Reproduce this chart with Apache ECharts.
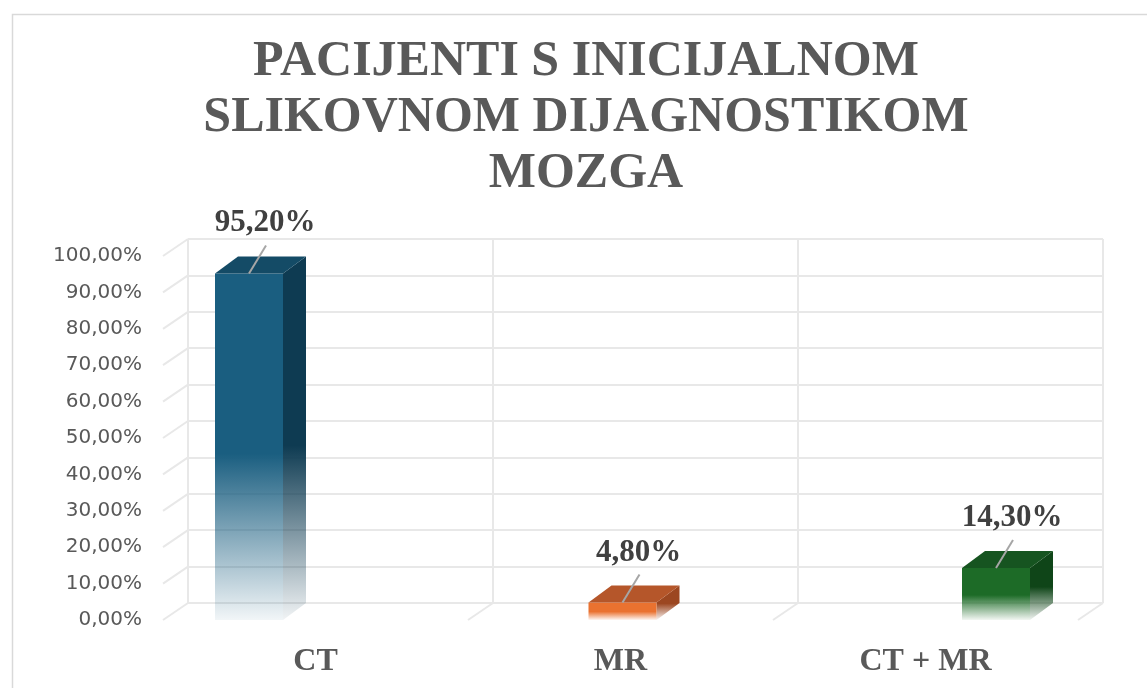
<!DOCTYPE html>
<html>
<head>
<meta charset="utf-8">
<script src="https://cdn.jsdelivr.net/npm/echarts@6/dist/echarts.min.js"></script>
<style>
html, body { margin: 0; padding: 0; background: #fff; }
#main { width: 1147px; height: 688px; }
</style>
</head>
<body>
<div id="main"></div>
<script>
var categories = ['CT', 'MR', 'CT + MR'];
var values = [95.2, 4.8, 14.3];
var yTicks = [0, 10, 20, 30, 40, 50, 60, 70, 80, 90, 100];
var floorEdges = [1, 2, 3];

// front / top / side colours per bar
var palette = [
	{ front: [26, 94, 128], top: '#144B66', side: [14, 59, 82] },
	{ front: [234, 114, 48], top: '#B5562A', side: [156, 71, 33] },
	{ front: [29, 107, 39], top: '#165420', side: [15, 69, 24] }
];

var myChart = echarts.init(document.getElementById('main'));

function pct(v) {
	return v.toFixed(2).replace('.', ',') + '%';
}
function rgb(c, a) {
	return 'rgba(' + c[0] + ',' + c[1] + ',' + c[2] + ',' + a + ')';
}
function fadeFill(c) {
	return new echarts.graphic.LinearGradient(0, 0, 0, 1, [
		{ offset: 0, color: rgb(c, 1) },
		{ offset: 0.52, color: rgb(c, 1) },
		{ offset: 1, color: rgb(c, 0.06) }
	]);
}

var gridColor = '#E8E8E8';
var depthX = 25, depthY = -17;

function renderBar(params, api) {
	var i = params.dataIndex;
	var v = api.value(1);
	var top = api.coord([api.value(0), v]);
	var base = api.coord([api.value(0), 0]);
	var w = 68, dx = 23, dy = -17;
	var x0 = top[0] - w / 2, x1 = top[0] + w / 2;
	var c = palette[i];
	return {
		type: 'group',
		children: [{
			type: 'polygon',
			shape: { points: [[x1, top[1]], [x1 + dx, top[1] + dy], [x1 + dx, base[1] + dy], [x1, base[1]]] },
			style: { fill: fadeFill(c.side) }
		}, {
			type: 'rect',
			shape: { x: x0, y: top[1], width: w, height: base[1] - top[1] },
			style: { fill: fadeFill(c.front) }
		}, {
			type: 'polygon',
			shape: { points: [[x0, top[1]], [x1, top[1]], [x1 + dx, top[1] + dy], [x0 + dx, top[1] + dy]] },
			style: { fill: c.top }
		}, {
			type: 'line',
			shape: { x1: top[0], y1: top[1], x2: top[0] + 17, y2: top[1] - 28 },
			style: { stroke: '#A6A6A6', lineWidth: 2 }
		}, {
			type: 'text',
			style: {
				x: top[0] + 16, y: top[1] - 50,
				text: pct(v),
				fill: '#404040',
				font: 'bold 31px "Liberation Serif"',
				align: 'center',
				verticalAlign: 'middle'
			}
		}]
	};
}

function renderSideEdge(params, api) {
	var cs = params.coordSys;
	var p = api.coord([0, api.value(1)]);
	return {
		type: 'line',
		shape: { x1: cs.x, y1: p[1], x2: cs.x + depthX, y2: p[1] + depthY },
		style: { stroke: gridColor, lineWidth: 2 }
	};
}

function renderFloorEdge(params, api) {
	var cs = params.coordSys;
	var x = cs.x + cs.width * api.value(0) / categories.length;
	var y = cs.y + cs.height;
	return {
		type: 'line',
		shape: { x1: x, y1: y, x2: x + depthX, y2: y + depthY },
		style: { stroke: gridColor, lineWidth: 2 }
	};
}

var hidden = { show: false };

option = {
	backgroundColor: '#fff',
	title: {
		text: 'PACIJENTI S INICIJALNOM\nSLIKOVNOM DIJAGNOSTIKOM\nMOZGA',
		left: 586,
		top: 34,
		textAlign: 'center',
		padding: 0,
		textStyle: {
			fontFamily: 'Liberation Serif',
			fontWeight: 'bold',
			fontSize: 50,
			lineHeight: 56,
			color: '#595959'
		}
	},
	graphic: [{
		type: 'rect',
		left: 10, top: 12,
		shape: { width: 1200, height: 720 },
		style: { fill: 'none', stroke: '#D9D9D9', lineWidth: 1.5 },
		silent: true
	}],
	grid: [
		// back wall
		{ left: 188, right: 44, top: 239, bottom: 85 },
		// front plane (axis labels)
		{ left: 163, right: 69, top: 256, bottom: 68 },
		// bars
		{ left: 249, right: 151, top: 256, bottom: 68 }
	],
	xAxis: [{
		gridIndex: 0,
		type: 'category',
		data: categories,
		axisLine: hidden, axisTick: hidden, axisLabel: hidden,
		splitLine: { show: true, lineStyle: { color: gridColor, width: 2 } }
	}, {
		gridIndex: 1,
		type: 'category',
		data: categories,
		axisLine: hidden, axisTick: hidden,
		axisLabel: {
			margin: 26,
			fontFamily: 'Liberation Serif',
			fontWeight: 'bold',
			fontSize: 32,
			color: '#595959'
		},
		splitLine: hidden
	}, {
		gridIndex: 2,
		type: 'category',
		data: categories,
		boundaryGap: false,
		show: false
	}],
	yAxis: [{
		gridIndex: 0,
		type: 'value',
		min: 0, max: 100, interval: 10,
		axisLine: hidden, axisTick: hidden, axisLabel: hidden,
		splitLine: { show: true, lineStyle: { color: gridColor, width: 2 } }
	}, {
		gridIndex: 1,
		type: 'value',
		min: 0, max: 100, interval: 10,
		axisLine: hidden, axisTick: hidden,
		splitLine: hidden,
		axisLabel: {
			margin: 21,
			fontFamily: 'DejaVu Sans',
			fontSize: 20,
			color: '#595959',
			formatter: function (v) { return pct(v); }
		}
	}, {
		gridIndex: 2,
		type: 'value',
		min: 0, max: 100,
		show: false
	}],
	series: [{
		type: 'custom',
		xAxisIndex: 1, yAxisIndex: 1,
		renderItem: renderSideEdge,
		data: yTicks.map(function (t) { return [0, t]; }),
		silent: true, z: 1
	}, {
		type: 'custom',
		xAxisIndex: 1, yAxisIndex: 1,
		renderItem: renderFloorEdge,
		data: floorEdges.map(function (k) { return [k, 0]; }),
		silent: true, z: 1
	}, {
		name: 'Pacijenti',
		type: 'custom',
		xAxisIndex: 2, yAxisIndex: 2,
		renderItem: renderBar,
		data: values.map(function (v, i) { return [i, v]; }),
		z: 5
	}]
};

myChart.setOption(option);
</script>
</body>
</html>
